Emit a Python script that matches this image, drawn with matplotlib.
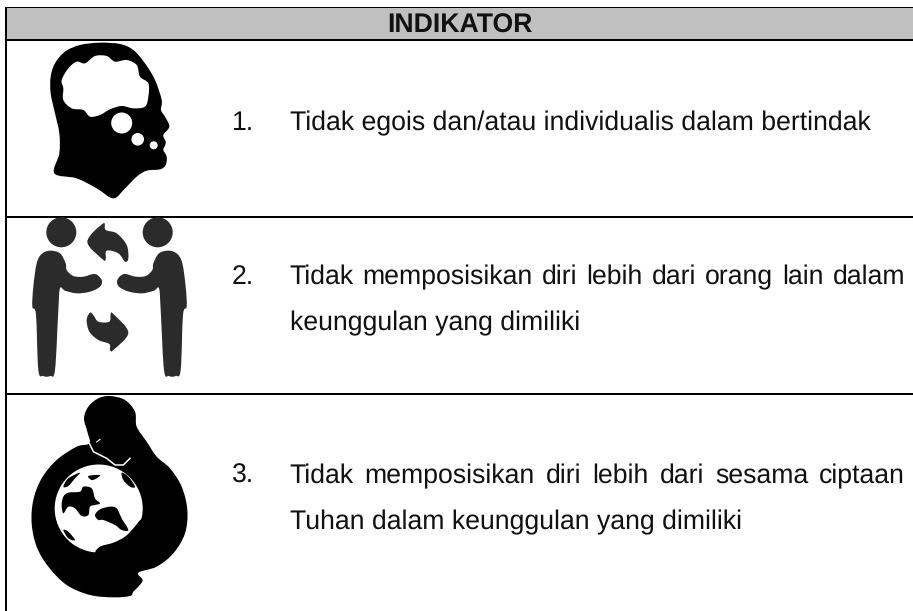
import numpy as np
import matplotlib
matplotlib.use("Agg")
import matplotlib.pyplot as plt
from matplotlib.patches import Circle, Rectangle, PathPatch
from matplotlib.path import Path

plt.rcParams['font.family'] = ['Liberation Sans', 'DejaVu Sans']
plt.rcParams['text.hinting'] = 'no_hinting'

# table content
header = "INDIKATOR"
numbers = ["1.", "2.", "3."]
row_lines = [
    ["Tidak egois dan/atau individualis dalam bertindak"],
    ["Tidak memposisikan diri lebih dari orang lain dalam", "keunggulan yang dimiliki"],
    ["Tidak memposisikan diri lebih dari sesama ciptaan", "Tuhan dalam keunggulan yang dimiliki"],
]
# baselines of the text lines
line_y = [[130], [284, 330], [483, 529]]
justified = [[False], [True, False], [True, False]]
TEXT_SIZE = 19.2
TEXT_COLOR = '#111111'

fig = plt.figure(figsize=(9.13, 6.11), dpi=100)
ax = fig.add_axes([0, 0, 1, 1])
ax.set_xlim(0, 913)
ax.set_ylim(611, 0)
ax.axis('off')


def smooth_path(pts):
    # closed catmull-rom outline turned into bezier segments
    pts = np.array(pts, dtype=float)
    n = len(pts)
    verts = [pts[0]]
    codes = [Path.MOVETO]
    for i in range(n):
        p0, p1, p2, p3 = pts[i - 1], pts[i], pts[(i + 1) % n], pts[(i + 2) % n]
        verts += [p1 + (p2 - p0) / 6, p2 - (p3 - p1) / 6, p2]
        codes += [Path.CURVE4] * 3
    return Path(verts, codes)


def blob(pts, y0=0, color='black', z=3):
    px = [(x / 3, y0 + y / 3) for x, y in pts]
    ax.add_patch(PathPatch(smooth_path(px), fc=color, ec='none', zorder=z))


def write_justified(words, x0, x1, y):
    r = fig.canvas.get_renderer()
    items = [ax.text(x0, y, w, fontsize=TEXT_SIZE, va='baseline', color=TEXT_COLOR) for w in words]
    widths = [t.get_window_extent(r).width for t in items]
    gap = (x1 - x0 - sum(widths)) / (len(words) - 1)
    x = x0
    for t, w in zip(items, widths):
        t.set_x(x)
        x += w + gap


# header and grid lines
ax.add_patch(Rectangle((6, 8), 907, 31, fc='#c0c0c0', ec='none', zorder=1))
ax.add_patch(Rectangle((5, 7), 908, 1.2, fc='black', ec='none', zorder=2))
for y in [39, 216, 393]:
    ax.add_patch(Rectangle((5, y), 908, 1.8, fc='black', ec='none', zorder=2))
ax.add_patch(Rectangle((5, 7), 2, 604, fc='black', ec='none', zorder=2))

ax.text(460, 33, header, fontsize=TEXT_SIZE, fontweight='bold', ha='center', va='baseline', color=TEXT_COLOR)

# text rows
for num, lines, ys, just in zip(numbers, row_lines, line_y, justified):
    ax.text(232, ys[0], num, fontsize=TEXT_SIZE, ha='left', va='baseline', color=TEXT_COLOR)
    for t, y, j in zip(lines, ys, just):
        if j:
            write_justified(t.split(), 289.5, 905, y)
        else:
            ax.text(289.5, y, t, fontsize=TEXT_SIZE, ha='left', va='baseline', color=TEXT_COLOR)

# head icon
blob([(163, 520), (178, 460), (178, 400), (165, 340), (152, 280), (152, 230), (165, 190),
      (195, 155), (240, 135), (300, 128), (360, 132), (400, 150), (435, 190), (465, 240),
      (485, 300), (483, 330), (495, 350), (508, 380), (490, 405), (497, 425), (495, 437),
      (490, 450), (500, 470), (497, 495), (480, 508), (440, 512), (410, 530), (375, 565),
      (340, 595), (290, 565), (230, 535)])
blob([(205, 205), (230, 185), (255, 190), (285, 168), (320, 168), (345, 185), (380, 180),
      (410, 195), (420, 230), (445, 250), (445, 290), (435, 320), (400, 325), (365, 318),
      (330, 328), (300, 345), (270, 350), (250, 330), (215, 325), (190, 300), (190, 265),
      (185, 240)], color='white', z=4)
ax.add_patch(Circle((121.7, 123), 10.5, fc='white', ec='none', zorder=4))
ax.add_patch(Circle((137.7, 139.3), 6.3, fc='white', ec='none', zorder=4))
ax.add_patch(Circle((153.7, 145.3), 4, fc='white', ec='none', zorder=4))

# two people with arrows
dark = '#2b2b2b'
body = [(150, 182), (180, 190), (197, 220), (200, 240), (220, 258), (250, 260), (285, 252),
        (305, 270), (300, 290), (270, 305), (230, 310), (195, 302), (180, 295), (175, 360),
        (165, 540), (150, 558), (130, 558), (115, 540), (108, 375), (97, 350), (100, 290),
        (110, 220), (125, 192)]
for mirror in [False, True]:
    pts = [(657 - x, y) for x, y in body] if mirror else body
    blob(pts, y0=190, color=dark)
ax.add_patch(Circle((61.3, 232.3), 15, fc=dark, ec='none', zorder=3))
ax.add_patch(Circle((157.7, 232.3), 15, fc=dark, ec='none', zorder=3))
blob([(310, 100), (317, 120), (350, 130), (380, 165), (385, 205), (375, 215), (355, 190),
      (320, 182), (317, 208), (308, 208), (262, 155)], y0=190, color=dark)
blob([(270, 368), (280, 375), (295, 395), (328, 395), (332, 372), (340, 372), (385, 428),
      (340, 480), (330, 480), (328, 462), (295, 450), (268, 425), (260, 390)], y0=190, color=dark)

# person hugging the globe
y3 = 390
blob([(330, 18), (375, 30), (405, 65), (410, 110), (440, 155), (470, 200), (510, 235),
      (545, 290), (562, 360), (555, 430), (520, 490), (470, 530), (415, 548), (428, 570),
      (415, 590), (400, 605), (390, 618), (340, 622), (270, 615), (200, 585), (145, 530),
      (110, 470), (95, 400), (100, 330), (125, 265), (170, 210), (230, 170), (268, 160),
      (262, 125), (252, 85), (265, 50), (295, 25)], y0=y3)
ax.add_patch(Circle((98.7, 508.5), 44, fc='white', ec='none', zorder=4))
blob([(190, 320), (205, 308), (240, 305), (250, 290), (275, 295), (285, 325), (300, 340),
      (285, 345), (270, 350), (265, 375), (245, 378), (225, 355), (205, 350), (190, 370),
      (185, 345)], y0=y3, z=5)
blob([(285, 375), (300, 358), (330, 350), (350, 355), (365, 385), (385, 420), (365, 420),
      (345, 405), (310, 390), (295, 390)], y0=y3, z=5)
blob([(190, 290), (205, 265), (240, 248), (225, 265), (205, 288)], y0=y3, z=5)
blob([(265, 258), (300, 255), (290, 265), (275, 270)], y0=y3, z=5)
blob([(365, 248), (385, 260), (405, 290), (390, 290), (370, 270)], y0=y3, z=5)
blob([(190, 420), (205, 425), (225, 450), (205, 445)], y0=y3, z=5)
# arm covering the lower right of the globe
blob([(285, 490), (300, 470), (340, 458), (375, 440), (400, 415), (428, 385), (445, 410),
      (400, 500), (300, 510)], y0=y3, z=6)
# face outline and eye
face_x = np.array([268, 280, 300, 320, 345, 370, 390]) / 3
face_y = y3 + np.array([160, 185, 195, 205, 225, 225, 205]) / 3
ax.plot(face_x, face_y, color='white', lw=1.1, zorder=7)
ax.plot(np.array([290, 300]) / 3, y3 + np.array([156, 148]) / 3, color='white', lw=0.8, zorder=7)

fig.savefig("out.png", dpi=100)
